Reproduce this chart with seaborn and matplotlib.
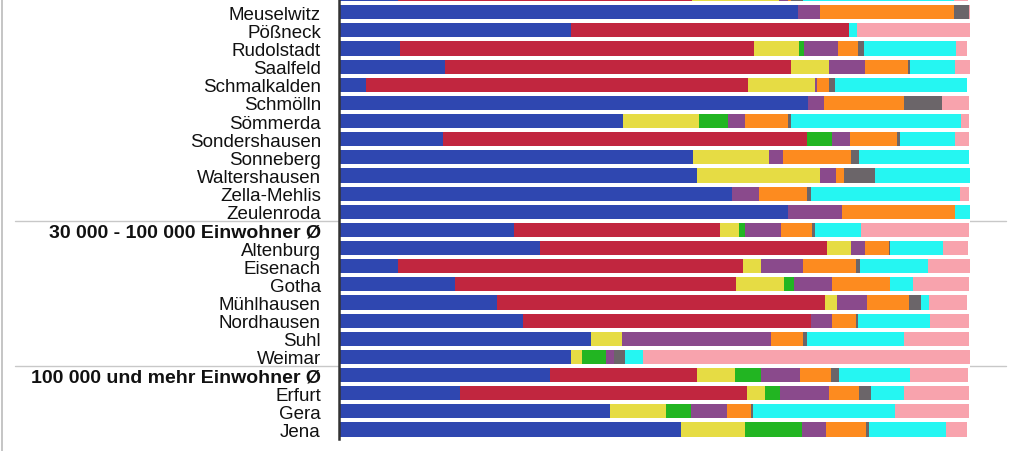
import numpy as np
import pandas as pd
import seaborn as sns
import matplotlib.pyplot as plt
from matplotlib.lines import Line2D
from matplotlib.transforms import blended_transform_factory

# rows (top one is cut off by the image edge)
towns = ["Meiningen", "Meuselwitz", "Pößneck", "Rudolstadt", "Saalfeld", "Schmalkalden",
         "Schmölln", "Sömmerda", "Sondershausen", "Sonneberg", "Waltershausen",
         "Zella-Mehlis", "Zeulenroda", "30 000 - 100 000 Einwohner Ø", "Altenburg",
         "Eisenach", "Gotha", "Mühlhausen", "Nordhausen", "Suhl", "Weimar",
         "100 000 und mehr Einwohner Ø", "Erfurt", "Gera", "Jena"]
group_rows = ["30 000 - 100 000 Einwohner Ø", "100 000 und mehr Einwohner Ø"]

# shares in percent, one list per segment (left to right)
blue = [9.4, 72.7, 36.7, 9.7, 16.8, 4.3, 74.3, 45.0, 16.5, 56.1, 56.8, 62.3, 71.2,
        27.8, 31.8, 9.4, 18.4, 25.0, 29.1, 39.9, 36.7, 33.5, 19.1, 43.0, 54.2]
red = [46.5, 0, 44.2, 56.1, 54.8, 60.5, 0, 0, 57.6, 0, 0, 0, 0,
       32.6, 45.5, 54.6, 44.5, 52.0, 45.7, 0, 0, 23.2, 45.6, 0, 0]
yellow = [13.9, 0, 0, 7.1, 6.1, 10.6, 0, 12.1, 0, 12.0, 19.5, 0, 0,
          3.0, 3.9, 2.8, 7.6, 1.9, 0, 4.9, 1.8, 6.1, 2.8, 8.9, 10.1]
green = [0, 0, 0, 0.8, 0, 0, 0, 4.6, 4.1, 0, 0, 0, 0,
         1.0, 0, 0, 1.6, 0, 0, 0, 3.8, 4.0, 2.4, 3.9, 9.1]
purple = [1.3, 3.5, 0, 5.4, 5.6, 0.4, 2.5, 2.7, 2.8, 2.2, 2.5, 4.2, 8.5,
          5.6, 2.2, 6.8, 6.0, 4.7, 3.4, 23.6, 1.3, 6.3, 7.8, 5.7, 3.8]
orange = [0.6, 21.2, 0, 3.2, 6.9, 1.9, 12.8, 6.7, 7.4, 10.9, 1.3, 7.7, 18.0,
          4.9, 3.8, 8.4, 9.2, 6.7, 3.8, 5.2, 0, 4.9, 4.7, 3.8, 6.3]
grey = [1.9, 2.4, 0, 0.9, 0.3, 0.9, 6.0, 0.6, 0.5, 1.2, 4.9, 0.6, 0,
        0.6, 0.2, 0.5, 0, 2.0, 0.3, 0.5, 1.7, 1.2, 1.9, 0.3, 0.5]
cyan = [23.8, 0, 1.2, 14.6, 7.2, 21.0, 0, 26.9, 8.7, 17.5, 15.0, 23.6, 2.3,
        7.3, 8.4, 10.9, 3.6, 1.2, 11.3, 15.4, 2.9, 11.3, 5.2, 22.5, 12.2]
pink = [2.3, 0.2, 17.9, 1.8, 2.4, 0, 4.2, 1.2, 2.3, 0, 0, 1.5, 0,
        17.0, 3.9, 6.7, 8.9, 6.1, 6.2, 10.4, 52.0, 9.2, 10.4, 11.7, 3.4]

segments = ["blue", "red", "yellow", "green", "purple", "orange", "grey", "cyan", "pink"]
colors = ["#2f47b0", "#c1263f", "#e6dc44", "#22b522", "#8a4a8c", "#fd8b1f",
          "#6b6569", "#25f6f2", "#f8a3ad"]

df = pd.DataFrame({"town": towns, "blue": blue, "red": red, "yellow": yellow,
                   "green": green, "purple": purple, "orange": orange,
                   "grey": grey, "cyan": cyan, "pink": pink})
cum = df[segments].cumsum(axis=1)

sns.set_theme(style="white")
plt.rcParams["font.family"] = ["Liberation Sans", "DejaVu Sans"]

fig = plt.figure(figsize=(10.24, 4.52), dpi=100)
ax = fig.add_axes([339 / 1024, 12 / 452, 631 / 1024, 440 / 452])

# draw cumulative totals from the right-most segment back to the left
for seg, col in reversed(list(zip(segments, colors))):
    sns.barplot(x=cum[seg], y=df["town"], order=towns, orient="h", color=col,
                saturation=1, width=0.78, linewidth=0, ax=ax)

ax.set_xlim(0, 100)
ax.set_ylim(24.52, 0.275)
ax.set_xlabel("")
ax.set_ylabel("")
ax.set_xticks([])
ax.tick_params(axis="y", length=0, pad=13, labelsize=13.5, labelcolor="#111111")
for lab in ax.get_yticklabels():
    if lab.get_text() in group_rows:
        lab.set_fontweight("bold")
        lab.set_fontsize(14)

for side in ["top", "right", "bottom"]:
    ax.spines[side].set_visible(False)
ax.spines["left"].set_color("#333333")
ax.spines["left"].set_linewidth(1.8)

# group separators running across the whole figure
tr = blended_transform_factory(fig.transFigure, ax.transData)
for y in [12.5, 20.5]:
    fig.add_artist(Line2D([15 / 1024, 1006 / 1024], [y, y], transform=tr,
                          color="#c8c8c8", lw=1, zorder=0))

# thin frame line on the left edge
fig.add_artist(Line2D([0.002, 0.002], [0, 1], transform=fig.transFigure,
                      color="#bbbbbb", lw=1.2))

fig.savefig("out.png", dpi=100)
